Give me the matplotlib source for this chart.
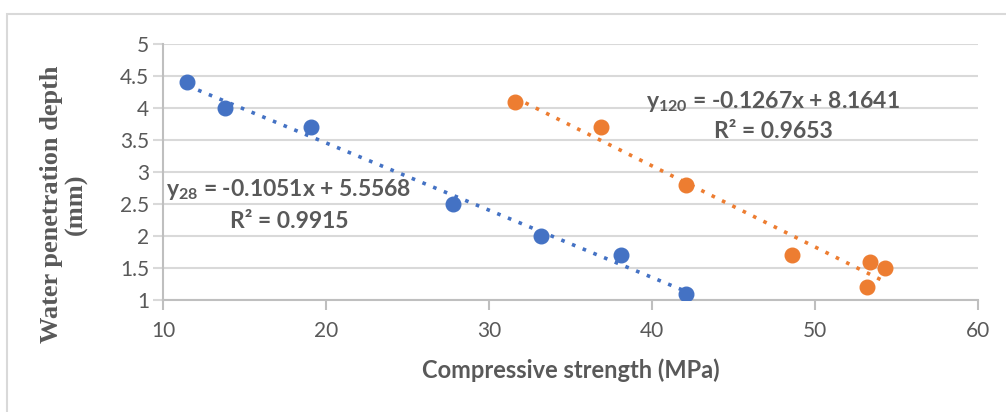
import matplotlib
matplotlib.use("Agg")
import matplotlib.pyplot as plt
from matplotlib.patches import Rectangle
import numpy as np

# data
strength28 = [11.5, 13.8, 19.1, 27.8, 33.2, 38.1, 42.1]
depth28 = [4.4, 4.0, 3.7, 2.5, 2.0, 1.7, 1.1]
strength120 = [31.6, 36.9, 42.1, 48.6, 53.4, 54.3, 53.2]
depth120 = [4.1, 3.7, 2.8, 1.7, 1.6, 1.5, 1.2]
fit28 = [-0.1051, 5.5568]
fit120 = [-0.1267, 8.1641]
xticks = [10, 20, 30, 40, 50, 60]
yticks = [1, 1.5, 2, 2.5, 3, 3.5, 4, 4.5, 5]

blue = "#4472C4"
orange = "#ED7D31"
grey = "#595959"

plt.rcParams["mathtext.fontset"] = "custom"
plt.rcParams["mathtext.rm"] = "Lato"
plt.rcParams["mathtext.bf"] = "Lato:bold"
plt.rcParams["mathtext.it"] = "Lato:italic"

fig = plt.figure(figsize=(10.06, 4.12), dpi=100)
fig.patches.append(Rectangle((7/1006, -0.1), 1.2, 1 - 14/412 + 0.1, transform=fig.transFigure,
                             fill=False, edgecolor="#d9d9d9", linewidth=1.5))
ax = fig.add_axes([163/1006, 1 - 300/412, (978-163)/1006, (300-44)/412])

def trend(xs, coef, color):
    xx = np.array([min(xs), max(xs)])
    ax.plot(xx, coef[0]*xx + coef[1], linestyle=(0, (1, 2.2)), color=color, linewidth=2.6, zorder=2)

trend(strength28, fit28, blue)
trend(strength120, fit120, orange)
ax.plot(strength28, depth28, "o", color=blue, markersize=10.5, zorder=3)
ax.plot(strength120, depth120, "o", color=orange, markersize=10.5, zorder=3)

ax.set_xlim(10, 60)
ax.set_ylim(1, 5)
ax.set_xticks(xticks)
ax.set_yticks(yticks)
ax.set_yticklabels([f"{v:g}" for v in yticks])
ax.grid(axis="y", color="#d9d9d9", linewidth=1.5)
ax.set_axisbelow(True)
for s in ["top", "right"]:
    ax.spines[s].set_visible(False)
for s in ["left", "bottom"]:
    ax.spines[s].set_color("#bfbfbf")
    ax.spines[s].set_linewidth(1.5)
ax.tick_params(axis="x", colors="#bfbfbf", length=7, width=1.5, labelcolor=grey, labelsize=15, pad=8)
ax.tick_params(axis="y", colors="#d9d9d9", length=7, width=1.5, labelcolor=grey, labelsize=15, pad=3)
for lab in ax.get_xticklabels() + ax.get_yticklabels():
    lab.set_family("Lato")

ax.set_xlabel("Compressive strength (MPa)", fontsize=17, fontweight="bold", color=grey, family="Lato")
ax.xaxis.set_label_coords(0.5, -(370 - 300) / 256, transform=ax.transAxes)
ax.xaxis.label.set_va("center")
ax.set_ylabel("Water penetration depth\n(mm)", fontsize=19, fontweight="bold", color=grey,
              family="Liberation Serif", linespacing=1.05)
ax.yaxis.set_label_coords(-(163 - 64) / 815, 0.375)
ax.yaxis.label.set_va("center")

txt = dict(fontsize=16.5, fontweight="bold", color=grey, family="Lato", ha="center", va="center")
fig.text(289/1006, 1 - 189/412, r"y$_{\mathbf{28}}$ = -0.1051x + 5.5568", **txt)
fig.text(289/1006, 1 - 221/412, "R² = 0.9915", **txt)
fig.text(773/1006, 1 - 101/412, r"y$_{\mathbf{120}}$ = -0.1267x + 8.1641", **txt)
fig.text(773/1006, 1 - 131/412, "R² = 0.9653", **txt)

fig.savefig("out.png", dpi=100)
